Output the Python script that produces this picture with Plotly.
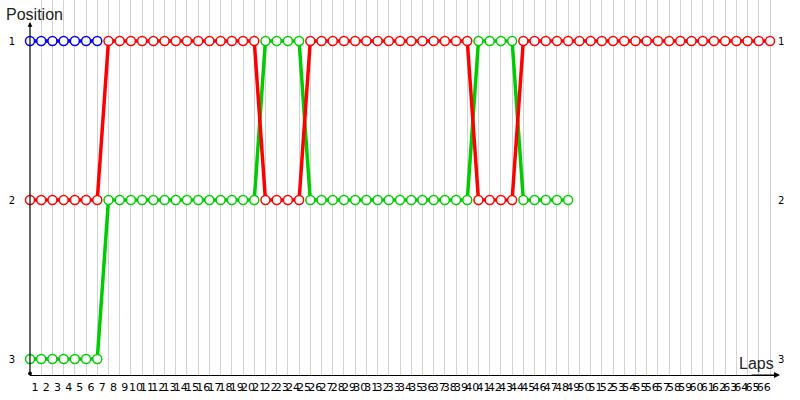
import plotly.graph_objects as go

# Data
laps = list(range(1, 68))
lap_labels = [str(i) for i in range(1, 67)] + [""]

pos_blue = [1, 1, 1, 1, 1, 1, 1]
pos_red = ([2] * 7 + [1] * 14 + [2] * 4 + [1] * 15 + [2] * 4 + [1] * 23)
pos_green = ([3] * 7 + [2] * 14 + [1] * 4 + [2] * 15 + [1] * 4 + [2] * 5)

pos_ticks = [1, 2, 3]
pos_labels = ["1", "2", "3"]

BLUE = "#0000ff"
RED = "#ff0000"
GREEN = "#00cc00"

W, H = 800, 400
ML, MR, MT, MB = 30, 24, 0, 25
plot_w = W - ML - MR
plot_h = H - MT - MB
step = 740 / 66.0  # px per lap
x_max = 1 + plot_w / step
y_top = 1 - 41 / 159.0
y_bot = 1 + 334 / 159.0

fig = go.Figure()

def add_driver(pos, color):
    fig.add_trace(go.Scatter(
        x=laps[:len(pos)], y=pos, mode="lines+markers",
        line=dict(color=color, width=3.5),
        marker=dict(symbol="circle", size=9, color="white",
                    line=dict(color=color, width=1.5)),
        cliponaxis=False, showlegend=False, hoverinfo="x+y",
    ))

add_driver(pos_green, GREEN)
add_driver(pos_red, RED)
add_driver(pos_blue, BLUE)

# invisible trace for the mirrored right axis
fig.add_trace(go.Scatter(x=[laps[0]], y=[pos_ticks[0]], yaxis="y2",
                         mode="markers", marker=dict(opacity=0),
                         showlegend=False, hoverinfo="skip"))

fig.update_layout(
    width=W, height=H,
    margin=dict(l=ML, r=MR, t=MT, b=MB, pad=0),
    paper_bgcolor="white", plot_bgcolor="white",
    showlegend=False,
    xaxis=dict(
        range=[1, x_max], tickmode="array", tickvals=laps, ticktext=lap_labels,
        tickangle=0, ticks="", showgrid=True, gridcolor="#d3d3d3", gridwidth=1,
        zeroline=False, showline=True, linecolor="#000000", linewidth=1,
        tickfont=dict(family="DejaVu Sans", size=11, color="#000000"),
        ticklabelshift=5, ticklabelstandoff=2, automargin=False,
    ),
    yaxis=dict(
        range=[y_bot, y_top], tickmode="array", tickvals=pos_ticks,
        ticktext=pos_labels, ticks="", showgrid=False, zeroline=False,
        showline=False, automargin=False,
        tickfont=dict(family="DejaVu Sans", size=10, color="#000000"),
        ticklabelstandoff=14,
    ),
    yaxis2=dict(
        range=[y_bot, y_top], tickmode="array", tickvals=pos_ticks,
        ticktext=pos_labels, ticks="", showgrid=False, zeroline=False,
        showline=False, overlaying="y", side="right", automargin=False,
        tickfont=dict(family="DejaVu Sans", size=10, color="#000000"),
        ticklabelstandoff=1,
    ),
    annotations=[
        # y axis line with arrow/dots
        dict(xref="paper", yref="paper", x=0, y=1 - 22 / plot_h, text="",
             showarrow=True, ax=0, ay=353, axref="pixel", ayref="pixel",
             arrowhead=2, arrowsize=0.8, arrowwidth=1.2, arrowcolor="#000000",
             arrowside="end+start", startarrowhead=6, startarrowsize=0.8),
        # x axis arrow
        dict(xref="paper", yref="paper", x=(780 - ML) / plot_w, y=0, text="",
             showarrow=True, ax=-30, ay=0, axref="pixel", ayref="pixel",
             arrowhead=2, arrowsize=1, arrowwidth=1.2, arrowcolor="#000000"),
        dict(xref="paper", yref="paper", x=-ML / plot_w + 4 / plot_w, y=1 - 4 / plot_h,
             xanchor="left", yanchor="top", text="Position", showarrow=False,
             font=dict(family="Liberation Sans", size=16, color="#222222")),
        dict(xref="paper", yref="paper", x=(776 - ML) / plot_w, y=(375 - 374) / plot_h,
             xanchor="right", yanchor="bottom", text="Laps", showarrow=False,
             font=dict(family="Liberation Sans", size=16, color="#222222")),
    ],
)

fig.write_html("out.html",
               config={"displayModeBar": False},
               post_script="document.body.style.margin='0';document.body.style.padding='0';")
